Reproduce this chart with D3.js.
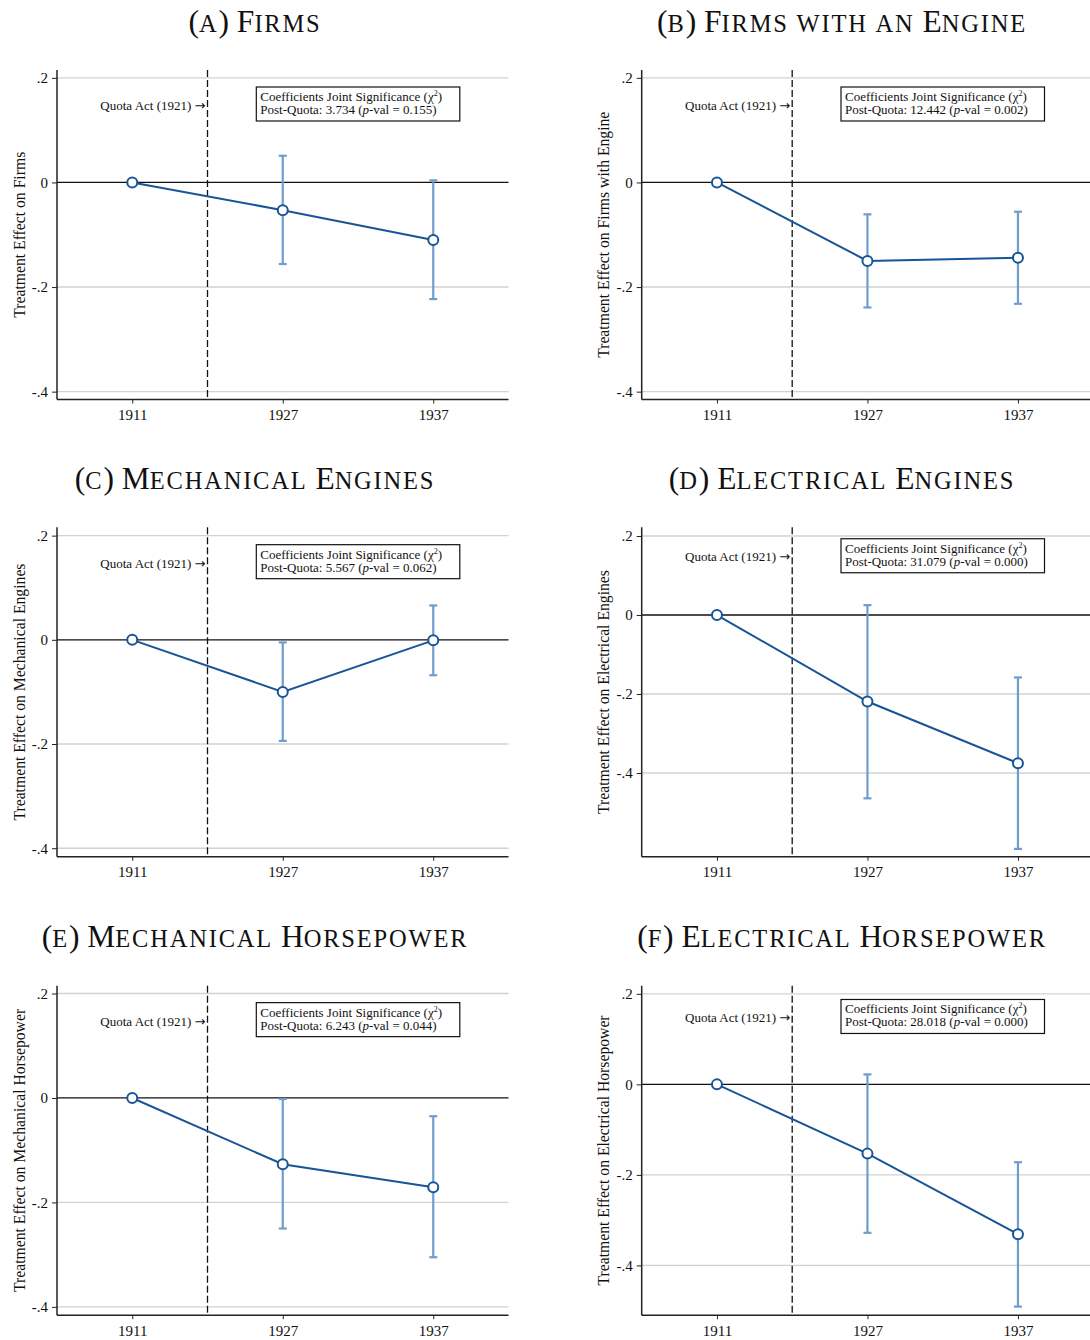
<!DOCTYPE html>
<html>
<head>
<meta charset="utf-8">
<script src="https://cdn.jsdelivr.net/npm/d3@7"></script>
<style>
  html, body { margin: 0; padding: 0; background: #fff; }
  svg { display: block; }
  text { font-family: "Liberation Serif", "Times New Roman", serif; fill: #111; }
</style>
</head>
<body>
<svg id="chart" width="1090" height="1340"></svg>
<script>
/* ── Data ──────────────────────────────────────────────────── */
const years = ['1911', '1927', '1937'];

const titles = [
  '(a) Firms',
  '(b) Firms with an Engine',
  '(c) Mechanical Engines',
  '(d) Electrical Engines',
  '(e) Mechanical Horsepower',
  '(f) Electrical Horsepower',
];

const yLabels = [
  'Treatment Effect on Firms',
  'Treatment Effect on Firms with Engine',
  'Treatment Effect on Mechanical Engines',
  'Treatment Effect on Electrical Engines',
  'Treatment Effect on Mechanical Horsepower',
  'Treatment Effect on Electrical Horsepower',
];

// point estimates, 1911 is the reference year
const coefs = [
  [0, -0.053, -0.110],
  [0, -0.150, -0.144],
  [0, -0.100, -0.001],
  [0, -0.219, -0.375],
  [0, -0.127, -0.171],
  [0, -0.153, -0.331],
];

const ciLow = [
  [null, -0.156, -0.223],
  [null, -0.239, -0.232],
  [null, -0.194, -0.068],
  [null, -0.464, -0.592],
  [null, -0.250, -0.305],
  [null, -0.328, -0.491],
];

const ciHigh = [
  [null, 0.051, 0.004],
  [null, -0.061, -0.056],
  [null, -0.005, 0.066],
  [null, 0.025, -0.158],
  [null, -0.002, -0.035],
  [null, 0.022, -0.172],
];

const chi2Stats = ['3.734', '12.442', '5.567', '31.079', '6.243', '28.018'];
const pVals = ['0.155', '0.002', '0.062', '0.000', '0.044', '0.000'];

const yTicks = [0.2, 0, -0.2, -0.4];
const yRanges = [
  [-0.415, 0.215],
  [-0.415, 0.215],
  [-0.4165, 0.216],
  [-0.612, 0.222],
  [-0.416, 0.215],
  [-0.510, 0.218],
];

const quotaLabel = 'Quota Act (1921) ';
const quotaPos = 1.5;      // between 1911 and 1927
const quotaLabelY = 0.147;
const boxY = 0.15;

/* ── Layout ────────────────────────────────────────────────── */
const PLOT_W = 451.5;
const PLOT_H = 329.5;
const COL_X = [57, 641.7];
const ROW_Y = [70, 527.3, 985.7];
const TITLE_CX = [255, 842];

const LINE_COL = '#175596';
const CI_COL = '#6f9dcb';

const svg = d3.select('#chart');

const fmtTick = d => d === 0 ? '0' : d.toFixed(1).replace('0.', '.');

/* ── Panels ────────────────────────────────────────────────── */
titles.forEach((title, i) => {
  const col = i % 2, row = Math.floor(i / 2);
  const x0 = COL_X[col], y0 = ROW_Y[row];

  const x = d3.scaleLinear().domain([0.5, 3.5]).range([x0, x0 + PLOT_W]);
  const y = d3.scaleLinear().domain(yRanges[i]).range([y0 + PLOT_H, y0]);

  const g = svg.append('g');

  // title in small caps
  drawTitle(g, title, TITLE_CX[col], y0 - 38.3);

  // gridlines
  g.append('g').selectAll('line')
    .data(yTicks.filter(t => t !== 0))
    .join('line')
    .attr('x1', x0).attr('x2', x0 + PLOT_W)
    .attr('y1', d => y(d)).attr('y2', d => y(d))
    .attr('stroke', '#d2d2d2')
    .attr('stroke-width', 1.4);

  // zero line
  g.append('line')
    .attr('x1', x0).attr('x2', x0 + PLOT_W)
    .attr('y1', y(0)).attr('y2', y(0))
    .attr('stroke', '#111')
    .attr('stroke-width', 1.3);

  // quota act marker
  g.append('line')
    .attr('x1', x(quotaPos)).attr('x2', x(quotaPos))
    .attr('y1', y0).attr('y2', y0 + PLOT_H)
    .attr('stroke', '#111')
    .attr('stroke-width', 1.3)
    .attr('stroke-dasharray', '7,3');

  const ql = g.append('text')
    .attr('x', x(quotaPos) - 2)
    .attr('y', y(quotaLabelY))
    .attr('dy', '0.35em')
    .attr('text-anchor', 'end')
    .attr('font-size', 13);
  ql.append('tspan').text(quotaLabel);
  ql.append('tspan')
    .attr('font-family', '"DejaVu Sans", sans-serif')
    .attr('font-size', 13)
    .text('\u2192');

  // joint significance box
  const bx = x0 + 199.3, by = y(boxY) - 17;
  g.append('rect')
    .attr('x', bx).attr('y', by)
    .attr('width', 203.5).attr('height', 34)
    .attr('fill', '#fff')
    .attr('stroke', '#111')
    .attr('stroke-width', 1.2);

  const t1 = g.append('text')
    .attr('x', bx + 4).attr('y', by + 14)
    .attr('font-size', 13);
  t1.append('tspan').text('Coefficients Joint Significance (\u03C7');
  t1.append('tspan').attr('font-size', 8).attr('dy', -5).text('2');
  t1.append('tspan').attr('dy', 5).text(')');

  const t2 = g.append('text')
    .attr('x', bx + 4).attr('y', by + 27)
    .attr('font-size', 13);
  t2.append('tspan').text(`Post-Quota: ${chi2Stats[i]} (`);
  t2.append('tspan').attr('font-style', 'italic').text('p');
  t2.append('tspan').text(`-val = ${pVals[i]})`);

  // axes
  const yAxis = d3.axisLeft(y)
    .tickValues(yTicks)
    .tickFormat(fmtTick)
    .tickSize(5)
    .tickPadding(4);
  const ya = g.append('g')
    .attr('transform', `translate(${x0},0)`)
    .call(yAxis);
  ya.select('.domain')
    .attr('d', `M0,${y0}V${y0 + PLOT_H}`)
    .attr('stroke', '#222')
    .attr('stroke-width', 1.5);
  ya.selectAll('.tick line').attr('stroke', '#222');
  ya.selectAll('.tick text')
    .attr('font-size', 15)
    .attr('font-family', '"Liberation Serif", serif')
    .attr('fill', '#111');

  const xAxis = d3.axisBottom(x)
    .tickValues([1, 2, 3])
    .tickFormat(d => years[d - 1])
    .tickSize(4)
    .tickPadding(6);
  const xa = g.append('g')
    .attr('transform', `translate(0,${y0 + PLOT_H})`)
    .call(xAxis);
  xa.select('.domain')
    .attr('d', `M${x0},0H${x0 + PLOT_W}`)
    .attr('stroke', '#222')
    .attr('stroke-width', 1.5);
  xa.selectAll('.tick line').attr('stroke', '#222');
  xa.selectAll('.tick text')
    .attr('font-size', 15)
    .attr('font-family', '"Liberation Serif", serif')
    .attr('fill', '#111');

  // y label
  g.append('text')
    .attr('transform', `translate(${x0 - 32.5},${y0 + PLOT_H / 2}) rotate(-90)`)
    .attr('text-anchor', 'middle')
    .attr('font-size', 15.7)
    .text(yLabels[i]);

  // series
  const pts = coefs[i].map((c, k) => ({
    k: k + 1, c, lo: ciLow[i][k], hi: ciHigh[i][k],
  }));

  const ci = g.append('g').selectAll('g')
    .data(pts.filter(p => p.lo !== null))
    .join('g')
    .attr('stroke', CI_COL)
    .attr('stroke-width', 2.2);
  ci.append('line')
    .attr('x1', d => x(d.k)).attr('x2', d => x(d.k))
    .attr('y1', d => y(d.lo)).attr('y2', d => y(d.hi));
  ci.append('line')
    .attr('x1', d => x(d.k) - 4).attr('x2', d => x(d.k) + 4)
    .attr('y1', d => y(d.lo)).attr('y2', d => y(d.lo));
  ci.append('line')
    .attr('x1', d => x(d.k) - 4).attr('x2', d => x(d.k) + 4)
    .attr('y1', d => y(d.hi)).attr('y2', d => y(d.hi));

  g.append('path')
    .datum(pts)
    .attr('fill', 'none')
    .attr('stroke', LINE_COL)
    .attr('stroke-width', 2)
    .attr('d', d3.line().x(d => x(d.k)).y(d => y(d.c)));

  g.append('g').selectAll('circle')
    .data(pts)
    .join('circle')
    .attr('cx', d => x(d.k))
    .attr('cy', d => y(d.c))
    .attr('r', 5)
    .attr('fill', '#fff')
    .attr('stroke', LINE_COL)
    .attr('stroke-width', 2);
});

/* ── Helpers ───────────────────────────────────────────────── */
// lower-case letters become small capitals, everything else full size
function drawTitle(g, str, cx, baseline) {
  const t = g.append('text')
    .attr('x', cx).attr('y', baseline)
    .attr('text-anchor', 'middle')
    .attr('font-size', 31.5);
  const runs = [];
  for (const ch of str) {
    const small = ch !== ch.toUpperCase();
    const last = runs[runs.length - 1];
    if (last && last.small === small) last.s += ch;
    else runs.push({ small, s: ch });
  }
  runs.forEach(r => {
    const sp = t.append('tspan').text(r.small ? r.s.toUpperCase() : r.s);
    if (r.small) sp.attr('font-size', 24.5).attr('letter-spacing', 1.8);
  });
}
</script>
</body>
</html>
